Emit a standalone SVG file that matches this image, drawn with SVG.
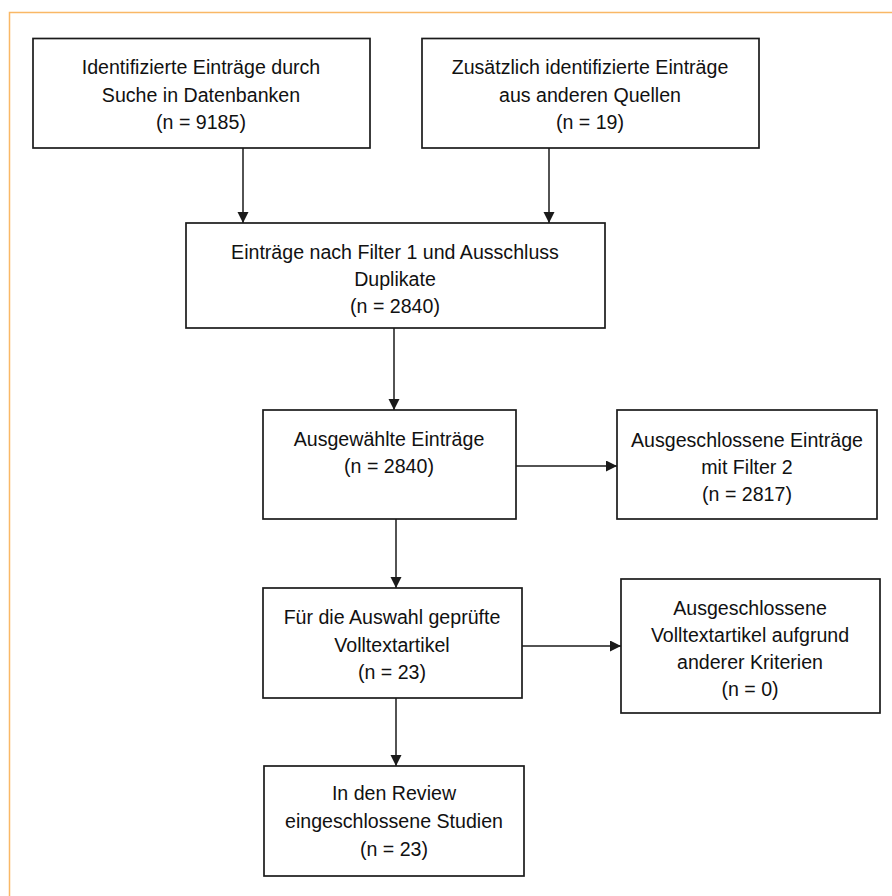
<svg xmlns="http://www.w3.org/2000/svg" width="892" height="896" viewBox="0 0 892 896">
<style>
.box{fill:#fff;stroke:#1a1a1a;stroke-width:1.7}
.t{font-family:"Liberation Sans",Arial,sans-serif;font-size:19.6px;fill:#111;text-anchor:middle}
.c{stroke:#1a1a1a;stroke-width:1.5;fill:none}
.frame{stroke:#F9B866;stroke-width:1.5;fill:none}
</style>
<defs>
<marker id="ah" markerWidth="12" markerHeight="12" refX="11" refY="5.5" orient="auto" markerUnits="userSpaceOnUse">
<path d="M0,0 L11,5.5 L0,11 Z" fill="#1a1a1a"/>
</marker>
</defs>
<rect width="892" height="896" fill="#fff"/>
<path class="frame" d="M9.5,896 L9.5,12.5 L892,12.5"/>
<g id="connectors">
<line class="c" x1="243" y1="148" x2="243" y2="223" marker-end="url(#ah)"/>
<line class="c" x1="549" y1="148" x2="549" y2="223" marker-end="url(#ah)"/>
<line class="c" x1="394" y1="328" x2="394" y2="410" marker-end="url(#ah)"/>
<line class="c" x1="516" y1="466" x2="617" y2="466" marker-end="url(#ah)"/>
<line class="c" x1="396" y1="519" x2="396" y2="588" marker-end="url(#ah)"/>
<line class="c" x1="522" y1="646" x2="621" y2="646" marker-end="url(#ah)"/>
<line class="c" x1="396" y1="698" x2="396" y2="766" marker-end="url(#ah)"/>
</g>
<g id="n1">
<rect class="box" x="33" y="38.5" width="337" height="109.5"/>
<text class="t" x="201" y="74">Identifizierte Einträge durch</text>
<text class="t" x="201" y="101.5">Suche in Datenbanken</text>
<text class="t" x="201" y="129">(n = 9185)</text>
</g>
<g id="n2">
<rect class="box" x="422" y="38.5" width="337" height="109.5"/>
<text class="t" x="590" y="74">Zusätzlich identifizierte Einträge</text>
<text class="t" x="590" y="101.5">aus anderen Quellen</text>
<text class="t" x="590" y="129">(n = 19)</text>
</g>
<g id="n3">
<rect class="box" x="186" y="223" width="419" height="105"/>
<text class="t" x="395" y="259">Einträge nach Filter 1 und Ausschluss</text>
<text class="t" x="395" y="286">Duplikate</text>
<text class="t" x="395" y="313">(n = 2840)</text>
</g>
<g id="n4">
<rect class="box" x="263" y="410" width="253" height="109"/>
<text class="t" x="389" y="446">Ausgewählte Einträge</text>
<text class="t" x="389" y="473">(n = 2840)</text>
</g>
<g id="n5">
<rect class="box" x="617" y="410" width="260" height="109"/>
<text class="t" x="747" y="447">Ausgeschlossene Einträge</text>
<text class="t" x="747" y="474">mit Filter 2</text>
<text class="t" x="747" y="501">(n = 2817)</text>
</g>
<g id="n6">
<rect class="box" x="263" y="588" width="259" height="110"/>
<text class="t" x="392" y="624">Für die Auswahl geprüfte</text>
<text class="t" x="392" y="652">Volltextartikel</text>
<text class="t" x="392" y="679">(n = 23)</text>
</g>
<g id="n7">
<rect class="box" x="621" y="579" width="259" height="134"/>
<text class="t" x="750" y="615">Ausgeschlossene</text>
<text class="t" x="750" y="642">Volltextartikel aufgrund</text>
<text class="t" x="750" y="669">anderer Kriterien</text>
<text class="t" x="750" y="696">(n = 0)</text>
</g>
<g id="n8">
<rect class="box" x="264" y="766" width="260" height="110"/>
<text class="t" x="394" y="800">In den Review</text>
<text class="t" x="394" y="828">eingeschlossene Studien</text>
<text class="t" x="394" y="856">(n = 23)</text>
</g>
</svg>
